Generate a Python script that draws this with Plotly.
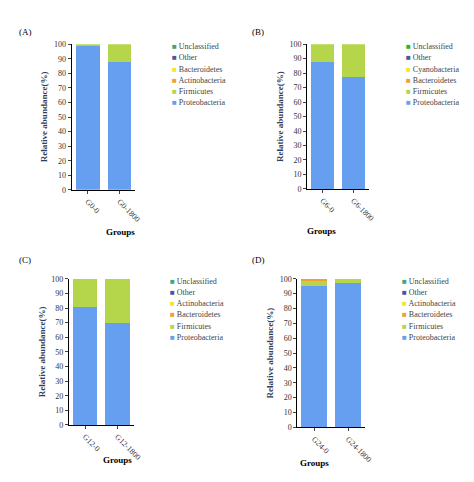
import plotly.graph_objects as go

# panel data (percent)
groups_a = ["G0-0", "G0-1800"]
groups_b = ["G6-0", "G6-1800"]
groups_c = ["G12-0", "G12-1800"]
groups_d = ["G24-0", "G24-1800"]

# A
a_names = ["Proteobacteria", "Firmicutes", "Actinobacteria", "Bacteroidetes", "Other", "Unclassified"]
a_proteo = [99, 88]
a_firm = [1, 12]
a_actino = [0, 0]
a_bact = [0, 0]
a_other = [0, 0]
a_uncl = [0, 0]

# B
b_names = ["Proteobacteria", "Firmicutes", "Bacteroidetes", "Cyanobacteria", "Other", "Unclassified"]
b_proteo = [88, 77.5]
b_firm = [12, 22.5]
b_bact = [0, 0]
b_cyano = [0, 0]
b_other = [0, 0]
b_uncl = [0, 0]

# C
c_names = ["Proteobacteria", "Firmicutes", "Bacteroidetes", "Actinobacteria", "Other", "Unclassified"]
c_proteo = [81, 70]
c_firm = [19, 30]
c_bact = [0, 0]
c_actino = [0, 0]
c_other = [0, 0]
c_uncl = [0, 0]

# D
d_names = ["Proteobacteria", "Firmicutes", "Bacteroidetes", "Actinobacteria", "Other", "Unclassified"]
d_proteo = [95, 97]
d_firm = [3.5, 3]
d_bact = [1.5, 0]
d_actino = [0, 0]
d_other = [0, 0]
d_uncl = [0, 0]

BLUE = "#679ff0"
GREEN = "#b5d64a"
ORANGE = "#f0a030"
YELLOW = "#f2e62a"
NAVY = "#4b55a0"
TEAL = "#3aa87a"
LIME = "#22bb22"

panels = [
    ("A", groups_a, a_names, [a_proteo, a_firm, a_actino, a_bact, a_other, a_uncl],
     [BLUE, GREEN, ORANGE, YELLOW, NAVY, TEAL], [0.137, 0.274], [0.624, 0.932]),
    ("B", groups_b, b_names, [b_proteo, b_firm, b_bact, b_cyano, b_other, b_uncl],
     [BLUE, GREEN, ORANGE, YELLOW, NAVY, LIME], [0.643, 0.776], [0.626, 0.932]),
    ("C", groups_c, c_names, [c_proteo, c_firm, c_bact, c_actino, c_other, c_uncl],
     [BLUE, GREEN, ORANGE, YELLOW, NAVY, TEAL], [0.131, 0.270], [0.127, 0.436]),
    ("D", groups_d, d_names, [d_proteo, d_firm, d_bact, d_actino, d_other, d_uncl],
     [BLUE, GREEN, ORANGE, YELLOW, NAVY, TEAL], [0.622, 0.768], [0.122, 0.436]),
]

FONT = "Liberation Serif, Times New Roman, serif"
fig = go.Figure()
layout = {}

for i, (tag, grp, names, vals, cols, xd, yd) in enumerate(panels):
    n = "" if i == 0 else str(i + 1)
    for name, v, c in zip(names, vals, cols):
        fig.add_trace(go.Bar(x=grp, y=v, name=name, marker_color=c, marker_line_width=0,
                             xaxis="x" + n, yaxis="y" + n, showlegend=False))
    layout["xaxis" + n] = dict(domain=xd, anchor="y" + n, showline=True, linecolor="black",
                               ticks="outside", ticklen=3, tickangle=45,
                               tickfont=dict(size=8, family=FONT, color="#333"))
    layout["yaxis" + n] = dict(domain=yd, anchor="x" + n, range=[0, 100], dtick=10,
                               showline=True, linecolor="black", ticks="outside", ticklen=3,
                               showgrid=False, tickfont=dict(size=8, family=FONT, color="#333"),
                               title=dict(text="<b>Relative abundance(%)</b>", font=dict(size=9, family=FONT), standoff=4))
    # legend drawn as text, top entry = last series
    for k, (name, c) in enumerate(zip(names[::-1], cols[::-1])):
        fig.add_annotation(text='<span style="color:%s">■</span> %s' % (c, name),
                           xref="paper", yref="paper", x=xd[1] + 0.075, y=yd[1] - 0.005 - k * 0.0238,
                           showarrow=False, xanchor="left", yanchor="middle",
                           font=dict(size=8, family=FONT, color="#444"))
    fig.add_annotation(text="<b>Groups</b>", xref="paper", yref="paper",
                       x=(xd[0] + xd[1]) / 2, y=yd[0] - 0.09, showarrow=False,
                       font=dict(size=9, family=FONT, color="black"))
    fig.add_annotation(text="(" + tag + ")", xref="paper", yref="paper",
                       x=0.02 if xd[0] < 0.5 else 0.52, y=yd[1] + 0.04,
                       showarrow=False, xanchor="left", font=dict(size=9, family=FONT, color="black"))

fig.update_layout(**layout)
fig.update_layout(width=474, height=482, margin=dict(l=0, r=0, t=0, b=0),
                  barmode="stack", bargap=0.25, plot_bgcolor="white", paper_bgcolor="white",
                  font=dict(family=FONT), showlegend=False)
fig.write_html("out.html")
